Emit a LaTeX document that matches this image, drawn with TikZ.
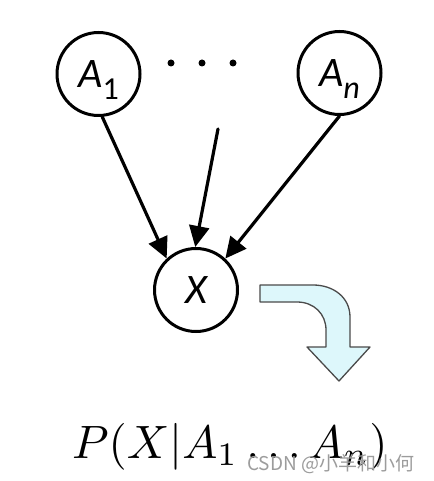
\documentclass[tikz,border=0pt]{standalone}
\usepackage[no-math]{fontspec}
\newfontfamily\labfont{Carlito}
\newfontfamily\cjkfont{Noto Sans CJK SC}
\usetikzlibrary{arrows.meta, calc}
\definecolor{inkC}{HTML}{000000}
\definecolor{flowC}{HTML}{DDF7FB}
\definecolor{flowLineC}{HTML}{4A4A4A}
\definecolor{markC}{HTML}{9C9C9C}

% variable label: italic letter with a lowered index
\newcommand{\varlab}[2]{{\labfont\fontsize{42}{50}\selectfont\itshape #1%
  \raisebox{-12pt}{\fontsize{32}{38}\selectfont #2}}}

\begin{document}
\begin{tikzpicture}[
  x=1pt,
  y=-1pt,
  line cap=round,
  line join=round,
  var/.style={circle, draw=inkC, line width=3pt, minimum size=83pt,
    inner sep=0pt, text depth=0pt},
  dep/.style={draw=inkC, line width=3.2pt,
    -{Triangle[length=21pt, width=20pt]}}
]
\useasboundingbox (0,0) rectangle (433,481);

% Parents and child
\node[var] (A1) at (98.5,74) {\varlab{A}{\upshape 1}};
\node[var] (An) at (339.5,73) {\varlab{A}{n}};
\node[var] (X) at (196,290) {\varlab{X}{}};

% Ellipsis between the parents
\foreach \x in {171,202,233}{
  \fill[inkC] (\x,63) circle[radius=3.5pt];
}

% Dependencies
\coordinate (M) at (218,129);
\draw[dep] (A1.-85) -- (X.133);
\draw[dep] (M) -- (X.91);
\draw[dep] (An.-90) -- (X.47);

% Bent arrow towards the conditional
\filldraw[fill=flowC, draw=flowLineC, line width=1.3pt]
  (260,285) -- (313,285) .. controls (333,285) and (350,297) .. (350,317)
  -- (350,347) -- (370,347) -- (339,381) -- (307,347) -- (326,347)
  -- (326,330) .. controls (326,314) and (314,302) .. (297,302)
  -- (260,302) -- cycle;

% Conditional distribution
\node[inner sep=0pt, anchor=base west] (P) at (72,458)
  {\scalebox{4.68}{$P(X|A_1\ldots A_n)$}};

% Watermark
\node[inner sep=0pt, anchor=base west, text=markC] (W) at (247,470)
  {\cjkfont\fontsize{19}{22}\selectfont CSDN @小羊和小何};

\end{tikzpicture}
\end{document}
